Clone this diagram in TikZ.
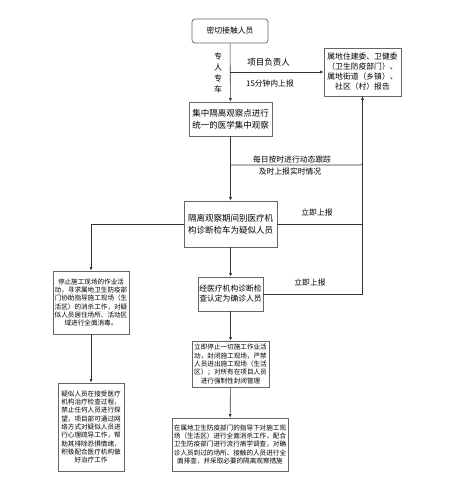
\documentclass[tikz,border=0pt]{standalone}
\usepackage{fontspec}
\setmainfont{Noto Sans CJK SC}
\usetikzlibrary{arrows.meta}
\usetikzlibrary{positioning}

\begin{document}
\begin{tikzpicture} [
  x=1pt, y=-1pt,
  every node/.style={align=center,inner sep=0pt},
  box/.style={draw=black!60,fill=white,line width=0.7pt},
  big/.style={font=\fontsize{8.5}{11.7}\selectfont},
  mid/.style={font=\fontsize{7.8}{10}\selectfont},
  small/.style={font=\fontsize{6.6}{8.3}\selectfont},
  link/.style={draw=black!80,line width=0.6pt},
  arr/.style={link,-{Latex[length=3.5pt,width=3pt]}}
  ]
  \useasboundingbox (0,0) rectangle (456,487);
  % central column
  \node [box, mid, rounded corners=3pt, minimum width=76pt, minimum height=24pt] (n1) at (230,31) {密切接触人员};
  \node [box, mid, minimum width=77pt, minimum height=48pt] (n0) at (362.5,72)
    {属地住建委、卫健委\\（卫生防疫部门）、\\属地街道（乡镇）、\\社区（村）报告};
  \node [box, big, minimum width=83pt, minimum height=34pt] (n2) at (230.5,119)
    {集中隔离观察点进行\\统一的医学集中观察};
  \node [box, big, minimum width=93pt, minimum height=46pt] (n3) at (230.5,224)
    {隔离观察期间别医疗机\\构诊断检车为疑似人员};
  \node [box, mid, minimum width=65pt, minimum height=34pt] (n5) at (230.5,294)
    {经医疗机构诊断检\\查认定为确诊人员};
  \node [box, small, minimum width=77pt, minimum height=46pt] (n6) at (230.5,364)
    {立即停止一切施工作业活\\动，封闭施工现场，严禁\\人员进出施工现场（生活\\区）；对所有在项目人员\\进行强制性封闭管理};
  \node [box, small, minimum width=116pt, minimum height=53pt] (n7) at (230,444.5)
    {在属地卫生防疫部门的指导下对施工现\\场（生活区）进行全面消杀工作，配合\\卫生防疫部门进行流行病学调查，对确\\诊人员到过的场所、接触的人员进行全\\面排查，并采取必要的隔离观察措施};
  % left column
  \node [box, small, minimum width=76pt, minimum height=63pt] (n4) at (91,302.5)
    {停止施工现场的作业活\\动，寻求属地卫生防疫部\\门协助指导施工现场（生\\活区）的消杀工作，对疑\\似人员居住场所、活动区\\域进行全面消毒。};
  \node [box, small, minimum width=66pt, minimum height=88pt] (n8) at (91,427)
    {疑似人员在接受医疗\\机构治疗检查过程，\\禁止任何人员进行探\\望，项目部可通过网\\络方式对疑似人员进\\行心理疏导工作，帮\\助其排除恐惧情绪，\\积极配合医疗机构做\\好治疗工作};
  % connectors
  \coordinate (c1) at (n1.south |- n0.west);
  \coordinate (c2) at (230,165);
  \draw [arr] (n1) -- (n2);
  \draw [arr] (c1) -- (n0.west);
  \draw [arr] (n2) -- (n3);
  \draw [link, rounded corners=2pt] (c2) -| (n0.south);
  \draw [link] (n3.east) -- (n3.east -| n0.south);
  \draw [arr] (n5.east) -| (n0.south);
  \draw [arr] (n3.west) -| (n4.north);
  \draw [arr] (n4) -- (n8);
  \draw [arr] (n3) -- (n5);
  \draw [arr] (n5) -- (n6);
  \draw [arr] (n6) -- (n7);
  % labels
  \node [font=\fontsize{8}{11}\selectfont] (t1) at (218,73) {专\\人\\专\\车};
  \node [big] (t2) at (268.5,62) {项目负责人};
  \node [mid] (t3) at (270,84) {15分钟内上报};
  \node [mid] (t4) at (292,160) {每日按时进行动态跟踪};
  \node [mid] (t5) at (290,172) {及时上报实时情况};
  \node [mid] (t6) at (317,212.5) {立即上报};
  \node [mid] (t7) at (310,283) {立即上报};
\end{tikzpicture}
\end{document}
